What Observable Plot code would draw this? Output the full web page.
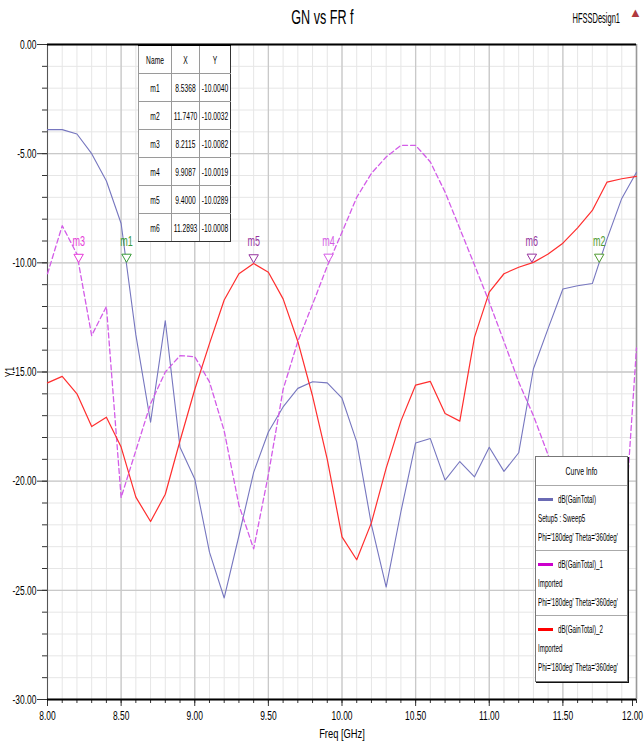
<!DOCTYPE html>
<html><head><meta charset="utf-8">
<script src="https://cdn.jsdelivr.net/npm/d3@7"></script>
<script src="https://cdn.jsdelivr.net/npm/@observablehq/plot@0.6"></script>
<style>
body{margin:0;background:#fff;}
#wrap{position:relative;width:644px;height:749px;overflow:hidden;background:#fff;
  font-family:"Liberation Sans",Arial,sans-serif;color:#000;}
#head{position:relative;height:32px;}
#title{position:absolute;left:0;width:644px;top:5px;text-align:center;font-size:20px;line-height:24px;}
#title span{display:inline-block;transform:scaleX(0.63);}
#design{position:absolute;right:24px;top:9px;font-size:15px;line-height:18px;transform:scaleX(0.5);transform-origin:right center;white-space:nowrap;}
#logo{position:absolute;left:629px;top:6px;color:#b0393f;font-size:13px;line-height:14px;}
#mtable{position:absolute;left:138px;top:44px;border-collapse:collapse;background:#fff;font-size:11.5px;table-layout:fixed;width:92px;}
#mtable td{border:1px solid #9a9a9a;height:27px;padding:0;text-align:center;overflow:visible;white-space:nowrap;}
#mtable tr:first-child td{border-top:2px solid #000;}
#mtable td:last-child{border-right:1px solid #333;}
#mtable tr:last-child td{border-bottom:1px solid #333;}
#mtable .c{display:block;width:300%;margin-left:-100%;text-align:center;transform:scaleX(0.58);}
#legend{position:absolute;left:535px;top:456px;width:91px;height:224px;background:#fff;border:1px solid #777;box-shadow:1px 1px 0 #111;font-size:11.5px;}
#legend .hd{height:28px;line-height:28px;text-align:center;border-bottom:1px solid #aaa;}
#legend .ent{height:65px;padding-top:4px;box-sizing:border-box;border-bottom:1px solid #aaa;}
#legend .ent:last-child{border-bottom:none;}
#legend .ln{height:19px;line-height:19px;white-space:nowrap;padding-left:2px;position:relative;}
#legend .sw{position:absolute;left:2px;top:8px;width:15px;height:3px;}
#legend .tx{display:inline-block;transform:scaleX(0.54);transform-origin:left center;}
#legend .hd .tx{transform-origin:center;transform:scaleX(0.6);}
</style></head>
<body>
<div id="wrap">
  <div id="head">
    <div id="title"></div>
    <div id="design"></div>
    <div id="logo">&#9650;</div>
  </div>
  <div id="chart"></div>
  <table id="mtable"></table>
  <div id="legend"></div>
</div>
<script>
// ---------------- data ----------------
const chartTitle = "GN vs FR f";
const designName = "HFSSDesign1";
const xLabel = "Freq [GHz]";
const yLabel = "Y1";

const freq = [8.0, 8.1, 8.2, 8.3, 8.4, 8.5, 8.6, 8.7, 8.8, 8.9,
              9.0, 9.1, 9.2, 9.3, 9.4, 9.5, 9.6, 9.7, 9.8, 9.9,
              10.0, 10.1, 10.2, 10.3, 10.4, 10.5, 10.6, 10.7, 10.8, 10.9,
              11.0, 11.1, 11.2, 11.3, 11.4, 11.5, 11.6, 11.7, 11.8, 11.9, 12.0];

// dB(GainTotal)  Setup5 : Sweep5
const gainSweep = [-3.90, -3.90, -4.10, -5.00, -6.25, -8.20, -13.30, -17.30, -12.65, -18.45,
                   -19.90, -23.25, -25.35, -22.50, -19.60, -17.75, -16.60, -15.75, -15.45, -15.50,
                   -16.20, -18.20, -22.00, -24.85, -21.40, -18.25, -18.05, -19.95, -19.10, -19.80,
                   -18.45, -19.55, -18.70, -14.85, -13.00, -11.20, -11.05, -10.95, -8.90, -7.05, -5.85];

// dB(GainTotal)_1  Imported
const gainImported1 = [-10.50, -8.30, -9.60, -13.33, -12.00, -20.75, -18.60, -16.45, -15.00, -14.25,
                       -14.30, -15.45, -17.70, -21.10, -23.10, -19.70, -15.80, -13.60, -11.90, -10.15,
                       -8.60, -7.00, -5.90, -5.15, -4.62, -4.62, -5.38, -6.76, -8.43, -10.10,
                       -11.80, -13.60, -15.46, -17.00, -18.80, -21.00, -23.00, -24.80, -26.00, -24.00, -13.90];

// dB(GainTotal)_2  Imported
const gainImported2 = [-15.50, -15.20, -16.00, -17.50, -17.07, -18.44, -20.73, -21.85, -20.60, -18.15,
                       -15.80, -13.70, -11.70, -10.50, -10.03, -10.43, -11.65, -13.60, -16.10, -19.00,
                       -22.55, -23.60, -21.90, -19.40, -17.25, -15.60, -15.43, -16.90, -17.25, -13.40,
                       -11.34, -10.50, -10.20, -9.98, -9.60, -9.10, -8.40, -7.60, -6.30, -6.15, -6.04];

const markerNames = ["m1", "m2", "m3", "m4", "m5", "m6"];
const markerX = [8.5368, 11.7470, 8.2115, 9.9087, 9.4000, 11.2893];
const markerY = [-10.0040, -10.0032, -10.0082, -10.0019, -10.0289, -10.0008];

const xTicks = [8.0, 8.5, 9.0, 9.5, 10.0, 10.5, 11.0, 11.5, 12.0];
const yTicks = [0, -5, -10, -15, -20, -25, -30];

const legendNames = ["dB(GainTotal)", "dB(GainTotal)_1", "dB(GainTotal)_2"];
const legendSources = ["Setup5 : Sweep5", "Imported", "Imported"];
const legendVars = ["Phi='180deg' Theta='360deg'", "Phi='180deg' Theta='360deg'", "Phi='180deg' Theta='360deg'"];
const legendTitle = "Curve Info";
const tableHeader = ["Name", "X", "Y"];

// ---------------- styles ----------------
const FONT = '"Liberation Sans",Arial,sans-serif';
const seriesColor = {sweep: "#7676bf", imp1: "#d35ce8", imp2: "#ff2e2e"};
const legendSwatch = ["#6a6ab4", "#cc00cc", "#ff0000"];
const markerColor = {m1: "#379a37", m2: "#4f9a2f", m3: "#e63ad8", m4: "#d55ae6", m5: "#96349e", m6: "#96349e"};

// ---------------- header ----------------
document.getElementById("title").innerHTML = `<span>${chartTitle}</span>`;
document.getElementById("design").textContent = designName;

// ---------------- plot ----------------
const rows = freq.map((f, i) => ({f, sweep: gainSweep[i], imp1: gainImported1[i], imp2: gainImported2[i]}));
const markers = markerNames.map((name, i) => ({name, x: markerX[i], y: markerY[i]}));
const minorX = d3.range(0, 41).map(i => +(8 + i * 0.1).toFixed(1));
const minorY = d3.range(-30, 1, 1);
const fmt = d => d.toFixed(2);
const lastX = xTicks[xTicks.length - 1];

const chart = Plot.plot({
  width: 644, height: 717,
  marginLeft: 47, marginRight: 8, marginTop: 12, marginBottom: 50,
  x: {domain: [8, 12]},
  y: {domain: [-30, 0]},
  style: {fontFamily: FONT, fontSize: "12px", background: "#fff", color: "#000", overflow: "visible"},
  marks: [
    Plot.gridX(minorX, {stroke: "#e6e6e6", strokeOpacity: 1}),
    Plot.gridY(minorY, {stroke: "#e6e6e6", strokeOpacity: 1}),
    Plot.gridX(xTicks, {stroke: "#c9c9c9", strokeOpacity: 1, strokeWidth: 1.3}),
    Plot.gridY(yTicks, {stroke: "#c9c9c9", strokeOpacity: 1, strokeWidth: 1.3}),
    Plot.axisX(minorX, {tickSize: 4, tickFormat: () => "", fill: "none", label: null, stroke: "#333"}),
    Plot.axisY(minorY, {tickSize: 5, tickFormat: () => "", fill: "none", label: null, stroke: "#333"}),
    Plot.axisX(xTicks.filter(d => d !== lastX), {tickSize: 7, tickPadding: 4, tickFormat: fmt, fontSize: 13, stroke: "#333",
      label: xLabel, labelAnchor: "center", labelOffset: 38, labelArrow: "none"}),
    Plot.axisX([lastX], {tickSize: 7, tickPadding: 4, tickFormat: fmt, fontSize: 13, stroke: "#333", dx: -4, label: null}),
    Plot.axisY(yTicks, {tickSize: 10, tickPadding: 1, tickFormat: fmt, fontSize: 13, stroke: "#333",
      label: yLabel, labelAnchor: "center", labelOffset: 43, labelArrow: "none"}),
    Plot.ruleX([8], {stroke: "#555"}),
    Plot.ruleX([12], {stroke: "#999", strokeWidth: 1.5}),
    Plot.ruleY([0], {stroke: "#000", strokeWidth: 2}),
    Plot.ruleY([-30], {stroke: "#000", strokeWidth: 2}),
    Plot.line(rows, {x: "f", y: "sweep", stroke: seriesColor.sweep, strokeWidth: 1.1}),
    Plot.line(rows, {x: "f", y: "imp1", stroke: seriesColor.imp1, strokeWidth: 1.3, strokeDasharray: "5,3"}),
    Plot.line(rows, {x: "f", y: "imp2", stroke: seriesColor.imp2, strokeWidth: 1.2}),
    Plot.dot(markers, {x: "x", y: "y", symbol: "triangle", rotate: 180, r: 3.5, dy: -6,
      stroke: d => markerColor[d.name], fill: "#fff", strokeWidth: 1}),
    Plot.text(markers, {x: "x", y: "y", text: "name", dy: -22, fontSize: 15,
      fill: d => markerColor[d.name]})
  ]
});
chart.querySelectorAll("text").forEach(t => {
  const tr = t.getAttribute("transform");
  if (tr == null) return;
  const s = t.textContent;
  let k = 0.65;
  if (/^m\d$/.test(s)) k = 0.6;
  else if (s === xLabel) k = 0.72;
  t.setAttribute("transform", tr + ` scale(${k},1)`);
});
document.getElementById("chart").appendChild(chart);

// ---------------- marker table ----------------
const tbl = document.getElementById("mtable");
const colW = [33, 28, 31];
let html = "<colgroup>" + colW.map(w => `<col style="width:${w}px">`).join("") + "</colgroup>";
html += "<tr>" + tableHeader.map(h => `<td><span class="c">${h}</span></td>`).join("") + "</tr>";
markers.forEach(m => {
  html += `<tr><td><span class="c">${m.name}</span></td><td><span class="c">${m.x.toFixed(4)}</span></td><td><span class="c">${m.y.toFixed(4)}</span></td></tr>`;
});
tbl.innerHTML = html;

// ---------------- legend ----------------
const lg = document.getElementById("legend");
let lh = `<div class="hd"><span class="tx">${legendTitle}</span></div>`;
legendNames.forEach((n, i) => {
  lh += `<div class="ent">
    <div class="ln"><div class="sw" style="background:${legendSwatch[i]}"></div><span class="tx" style="margin-left:20px">${n}</span></div>
    <div class="ln"><span class="tx">${legendSources[i]}</span></div>
    <div class="ln"><span class="tx">${legendVars[i]}</span></div>
  </div>`;
});
lg.innerHTML = lh;
</script>
</body></html>
